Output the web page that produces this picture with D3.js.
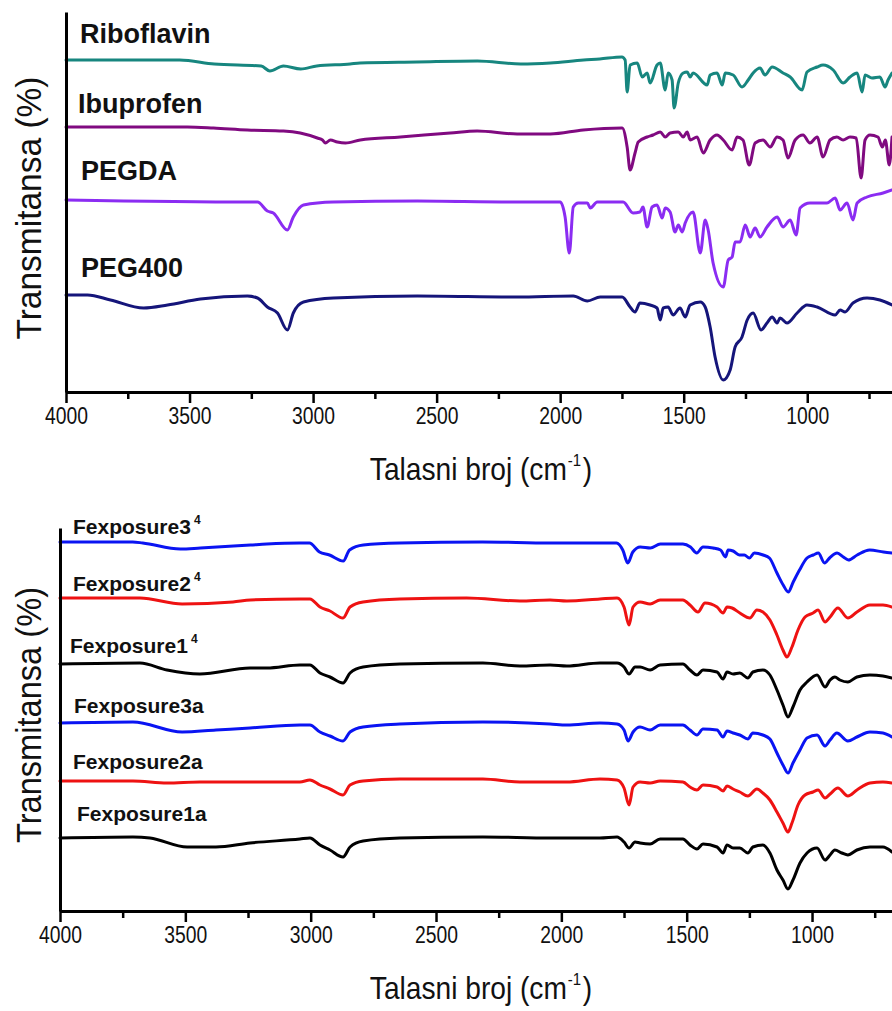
<!DOCTYPE html>
<html>
<head>
<meta charset="utf-8">
<script src="https://cdn.jsdelivr.net/npm/d3@7/dist/d3.min.js"></script>
<style>
  html, body { margin: 0; padding: 0; background: #ffffff; }
  svg { display: block; }
</style>
</head>
<body>
<svg id="chart" width="892" height="1011"></svg>
<script>
// ---- Axis ticks and titles ----
const majorTicks = [4000, 3500, 3000, 2500, 2000, 1500, 1000];
const minorTicks = [3750, 3250, 2750, 2250, 1750, 1250, 750];
const xTitleMain = "Talasni broj (cm";
const xTitleSup = "-1";
const xTitleEnd = ")";
const yTitle = "Transmitansa (%)";

// ---- FTIR spectra, [wavenumber cm-1, transmittance (a.u., stacked)] ----
const riboflavin = [
  [4000,332],[3540,332],[3400,328],[3210,326],[3175,321],[3120,326],[3050,323],[2985,326],
  [2850,328],[2810,329],[2580,330],[2335,331],[2160,328],[2040,329],[1905,332],[1840,333],
  [1750,335],[1737,332],[1729,300],[1717,327],[1688,329],[1668,315],[1648,319],[1636,309],
  [1608,327],[1595,329],[1575,302],[1563,319],[1547,312],[1539,284],[1522,309],[1502,319],
  [1486,320],[1474,315],[1462,319],[1405,307],[1393,317],[1365,319],[1344,307],[1332,319],
  [1300,317],[1264,305],[1239,312],[1219,319],[1191,324],[1171,317],[1142,325],[1098,319],
  [1069,315],[1021,302],[1001,320],[960,325],[936,327],[895,322],[855,309],[827,315],
  [798,319],[778,300],[766,317],[738,314],[706,315],[685,305],[673,312],[657,319]
];
const ibuprofen = [
  [4000,265],[3509,265],[3403,264],[3266,262],[3120,261],[3052,259],[2983,254],[2962,252],
  [2950,249],[2930,252],[2902,250],[2869,249],[2809,252],[2647,255],[2445,259],[2336,261],
  [2174,258],[2040,258],[1907,262],[1749,264],[1729,245],[1717,222],[1697,239],[1684,250],
  [1648,255],[1624,257],[1595,260],[1575,255],[1555,259],[1522,260],[1502,255],[1486,260],
  [1474,252],[1446,255],[1421,239],[1393,252],[1365,257],[1340,252],[1304,242],[1284,255],
  [1260,252],[1235,227],[1211,249],[1179,252],[1150,245],[1122,255],[1098,252],[1078,234],
  [1049,252],[1017,257],[989,249],[960,255],[936,235],[908,252],[880,255],[855,252],
  [827,255],[802,254],[782,214],[766,252],[746,257],[714,255],[696,245],[684,252],
  [668,227],[657,255]
];
const pegda = [
  [4000,192],[3254,190],[3225,190],[3185,181],[3161,179],[3104,162],[3080,175],[3039,187],
  [2918,190],[2578,191],[2202,190],[2000,190],[1980,175],[1963,139],[1947,185],[1927,189],
  [1890,189],[1878,184],[1850,190],[1745,190],[1705,179],[1677,180],[1665,185],[1648,165],
  [1628,185],[1608,187],[1587,174],[1575,184],[1555,180],[1535,160],[1522,167],[1506,160],
  [1494,169],[1462,180],[1433,139],[1413,172],[1401,162],[1381,129],[1340,105],[1320,132],
  [1304,135],[1292,150],[1272,150],[1251,167],[1231,155],[1211,164],[1191,155],[1163,165],
  [1122,175],[1098,165],[1069,172],[1045,157],[1029,184],[989,189],[920,189],[887,194],
  [867,182],[839,189],[815,172],[798,189],[758,195],[693,199],[657,202]
];
const peg400 = [
  [4000,97],[3913,97],[3820,92],[3686,84],[3589,87],[3456,93],[3266,96],[3225,94],
  [3185,85],[3144,79],[3104,62],[3080,79],[3039,90],[2918,94],[2578,96],[2174,95],
  [1947,96],[1890,91],[1838,95],[1749,95],[1717,85],[1697,80],[1677,89],[1636,87],
  [1608,84],[1595,72],[1583,84],[1563,85],[1543,77],[1515,84],[1494,75],[1474,87],
  [1433,90],[1413,85],[1393,65],[1373,35],[1340,12],[1312,22],[1292,45],[1264,55],
  [1243,72],[1219,79],[1187,62],[1163,69],[1142,75],[1122,69],[1110,74],[1082,69],
  [1041,79],[1001,87],[960,85],[887,77],[867,82],[847,80],[815,89],[758,94],[706,92],[657,87]
];

const fexposure3_4 = [
  [4000,369],[3710,369],[3670,368],[3520,362],[3440,363],[3240,366],[3175,367],[3045,368],
  [3005,368],[2965,359],[2925,356],[2870,350],[2845,361],[2790,366],[2645,368],[2315,369],
  [2045,368],[1845,368],[1780,368],[1755,361],[1735,348],[1715,359],[1685,364],[1645,363],
  [1605,367],[1515,367],[1485,364],[1460,358],[1435,364],[1395,363],[1365,361],[1345,354],
  [1335,361],[1315,360],[1290,356],[1270,356],[1250,353],[1230,358],[1195,356],[1170,353],
  [1140,338],[1115,326],[1095,319],[1075,329],[1050,341],[1020,353],[995,356],[975,358],
  [950,348],[930,353],[900,358],[875,354],[855,351],[820,356],[770,361],[715,359],[680,358]
];
const fexposure2_4 = [
  [4000,313],[3681,313],[3513,307],[3310,309],[3240,311],[3043,312],[3003,312],[2963,304],
  [2923,300],[2871,293],[2843,304],[2791,309],[2644,312],[2378,313],[2165,310],[2045,311],
  [1978,310],[1846,312],[1778,313],[1750,304],[1730,286],[1714,304],[1686,309],[1646,307],
  [1606,311],[1515,311],[1487,306],[1455,299],[1427,308],[1379,304],[1355,298],[1339,304],
  [1319,303],[1288,298],[1248,293],[1220,301],[1196,299],[1168,291],[1140,276],[1116,261],
  [1100,254],[1080,264],[1056,281],[1028,294],[996,298],[976,301],[948,289],[928,294],
  [897,303],[857,293],[821,299],[769,306],[717,306],[681,304]
];
const fexposure1_4 = [
  [4000,247],[3681,248],[3573,241],[3442,237],[3242,243],[3174,243],[3043,246],[3003,246],
  [2963,238],[2923,234],[2871,228],[2843,238],[2791,244],[2644,247],[2313,248],[2165,245],
  [2045,246],[1978,245],[1846,248],[1778,248],[1750,244],[1730,237],[1706,244],[1686,244],
  [1646,241],[1606,246],[1515,247],[1487,241],[1459,236],[1435,241],[1379,239],[1355,232],
  [1339,239],[1315,237],[1288,238],[1256,233],[1236,239],[1196,241],[1168,236],[1140,221],
  [1116,206],[1096,194],[1076,204],[1048,221],[1020,229],[980,236],[948,224],[928,231],
  [909,234],[889,231],[857,229],[821,234],[769,236],[717,235],[681,233]
];
const fexposure3a = [
  [4000,188],[3709,189],[3513,179],[3378,181],[3242,183],[3043,186],[3003,186],[2963,179],
  [2923,175],[2871,170],[2843,179],[2791,184],[2644,187],[2313,189],[2045,187],[1978,186],
  [1846,188],[1778,187],[1750,181],[1734,170],[1714,179],[1686,184],[1646,181],[1606,186],
  [1515,186],[1487,181],[1459,176],[1435,182],[1379,181],[1355,174],[1339,180],[1315,178],
  [1288,176],[1256,172],[1236,178],[1196,176],[1168,172],[1140,158],[1116,146],[1096,138],
  [1076,148],[1048,161],[1020,173],[980,176],[948,165],[928,171],[901,178],[857,170],
  [821,174],[769,179],[717,178],[681,174]
];
const fexposure2a = [
  [4000,130],[3709,130],[3573,128],[3442,129],[3242,129],[3043,129],[3003,131],[2963,126],
  [2923,122],[2871,116],[2843,126],[2791,130],[2644,132],[2313,132],[2165,129],[2045,129],
  [1978,129],[1846,132],[1778,131],[1750,123],[1730,106],[1714,124],[1686,129],[1646,128],
  [1606,130],[1515,129],[1487,124],[1459,121],[1435,126],[1379,124],[1355,120],[1339,125],
  [1315,122],[1288,119],[1256,115],[1220,122],[1196,118],[1168,111],[1140,99],[1116,88],
  [1096,79],[1080,88],[1056,106],[1028,116],[996,119],[976,121],[948,113],[928,117],
  [897,123],[857,115],[821,121],[769,128],[717,129],[681,128]
];
const fexposure1a = [
  [4000,73],[3709,74],[3641,73],[3493,64],[3378,64],[3242,68],[3043,72],[3003,73],
  [2963,66],[2923,61],[2871,54],[2843,64],[2791,70],[2644,73],[2313,74],[2045,73],
  [1846,73],[1778,74],[1750,69],[1730,63],[1706,69],[1686,68],[1646,67],[1606,72],
  [1515,72],[1487,66],[1459,62],[1435,67],[1379,64],[1355,58],[1339,66],[1315,63],
  [1288,63],[1256,58],[1236,64],[1196,66],[1168,58],[1140,41],[1116,31],[1096,22],
  [1076,31],[1048,48],[1020,58],[980,63],[948,51],[928,56],[909,61],[881,58],
  [857,56],[821,61],[769,64],[717,64],[681,59]
];

// ---- Series names ----
const topNames = ["Riboflavin", "Ibuprofen", "PEGDA", "PEG400"];
const topData = [riboflavin, ibuprofen, pegda, peg400];
const bottomNames = ["Fexposure3", "Fexposure2", "Fexposure1", "Fexposure3a", "Fexposure2a", "Fexposure1a"];
const bottomSup = ["4", "4", "4", "", "", ""];
const bottomData = [fexposure3_4, fexposure2_4, fexposure1_4, fexposure3a, fexposure2a, fexposure1a];

// ---- Styling ----
const topColors = ["#17867f", "#800a80", "#8b2cf2", "#15157a"];
const bottomColors = ["#0a14f2", "#ee1212", "#000000", "#0a14f2", "#ee1212", "#000000"];
const sansFont = "'Liberation Sans',Arial,Helvetica,sans-serif";

const W = 892;
const svg = d3.select("#chart");

const panels = [
  {
    xDomain: [4000, 657], left: 66, top: 12, bottom: 392, yDomain: [0, 380],
    names: topNames, sup: ["", "", "", ""], data: topData, colors: topColors,
    labelX: [80, 78, 81, 81], labelT: [349, 279, 212, 115], labelSize: 27,
    yTitleCenter: 208, yTitleLen: 263
  },
  {
    xDomain: [4000, 681], left: 60, top: 528, bottom: 911, yDomain: [0, 383],
    names: bottomNames, sup: bottomSup, data: bottomData, colors: bottomColors,
    labelX: [73, 73, 70, 74, 73, 77], labelT: [377, 320, 258, 198, 142, 90], labelSize: 21,
    yTitleCenter: 715, yTitleLen: 256
  }
];

panels.forEach(p => {
  const x = d3.scaleLinear().domain(p.xDomain).range([p.left, W]);
  const y = d3.scaleLinear().domain(p.yDomain).range([p.bottom, p.top]);
  const g = svg.append("g");

  const line = d3.line().curve(d3.curveMonotoneX).x(d => x(d[0])).y(d => y(d[1]));

  // spectra
  p.data.forEach((vals, i) => {
    const pts = d3.sort(vals, d => -d[0]);
    g.append("path")
      .datum(pts)
      .attr("fill", "none")
      .attr("stroke", p.colors[i])
      .attr("stroke-width", 3)
      .attr("stroke-linejoin", "round")
      .attr("stroke-linecap", "round")
      .attr("d", line);
  });

  // series labels
  p.names.forEach((name, i) => {
    const t = g.append("text")
      .attr("x", p.labelX[i])
      .attr("y", y(p.labelT[i]))
      .attr("font-family", sansFont)
      .attr("font-weight", "bold")
      .attr("font-size", p.labelSize)
      .attr("fill", "#111")
      .text(name);
    if (p.sup[i]) {
      t.append("tspan")
        .attr("dx", 3)
        .attr("dy", -10)
        .attr("font-size", 12)
        .text(p.sup[i]);
    }
  });

  // x axis: major ticks with labels
  const xAxis = g.append("g")
    .attr("transform", `translate(0,${p.bottom})`)
    .call(d3.axisBottom(x).tickValues(majorTicks).tickSize(11).tickSizeOuter(0).tickPadding(5)
      .tickFormat(d3.format("d")));
  xAxis.select(".domain").attr("stroke", "#000").attr("stroke-width", 3);
  xAxis.selectAll(".tick line").attr("stroke", "#000").attr("stroke-width", 2.5);
  xAxis.selectAll(".tick text")
    .attr("font-family", sansFont)
    .attr("font-size", 23)
    .attr("textLength", 43)
    .attr("lengthAdjust", "spacingAndGlyphs")
    .attr("fill", "#111");

  // x axis: minor ticks
  const xMinor = g.append("g")
    .attr("transform", `translate(0,${p.bottom})`)
    .call(d3.axisBottom(x).tickValues(minorTicks).tickSize(7).tickSizeOuter(0).tickFormat(""));
  xMinor.select(".domain").remove();
  xMinor.selectAll(".tick line").attr("stroke", "#000").attr("stroke-width", 2.5);

  // y axis (no ticks)
  const yAxis = g.append("g")
    .attr("transform", `translate(${p.left},0)`)
    .call(d3.axisLeft(y).tickValues([]).tickSizeOuter(0));
  yAxis.select(".domain").attr("stroke", "#000").attr("stroke-width", 3);

  // y title
  g.append("text")
    .attr("transform", `translate(41,${p.yTitleCenter}) rotate(-90)`)
    .attr("text-anchor", "middle")
    .attr("font-family", sansFont)
    .attr("font-size", 35)
    .attr("textLength", p.yTitleLen)
    .attr("lengthAdjust", "spacingAndGlyphs")
    .attr("fill", "#111")
    .text(yTitle);

  // x title (horizontally condensed)
  const xt = g.append("text")
    .attr("transform", `translate(481,${p.bottom + 88}) scale(0.88,1)`)
    .attr("text-anchor", "middle")
    .attr("font-family", sansFont)
    .attr("font-size", 32)
    .attr("fill", "#111");
  xt.append("tspan").text(xTitleMain);
  xt.append("tspan").attr("dx", 1).attr("dy", -14).attr("font-size", 17).text(xTitleSup);
  xt.append("tspan").attr("dx", 2).attr("dy", 14).text(xTitleEnd);
});
</script>
</body>
</html>
